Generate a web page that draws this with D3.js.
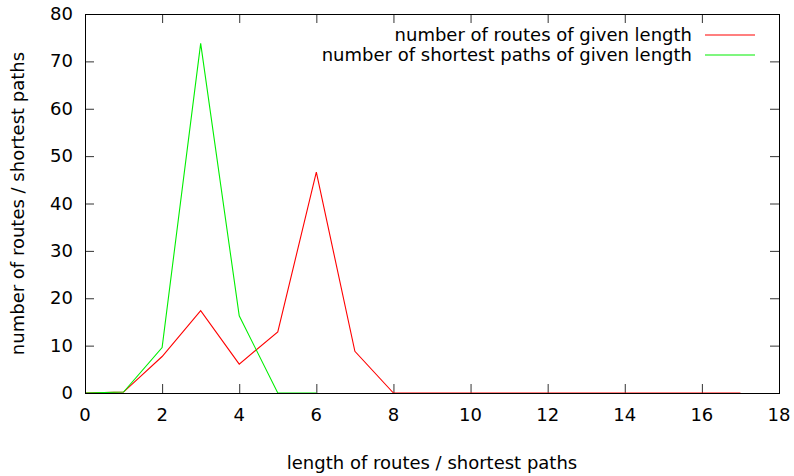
<!DOCTYPE html>
<html>
<head>
<meta charset="utf-8">
<script src="https://cdn.jsdelivr.net/npm/d3@7"></script>
<style>
  body { margin: 0; background: #fff; }
  text { font-family: "DejaVu Sans", sans-serif; font-size: 18px; fill: #000; }
</style>
</head>
<body>
<div id="chart"></div>
<script>
// path lengths and counts
const lengths = d3.range(0, 18);
const routes = [0, 0.2, 7.7, 17.4, 6.1, 12.9, 46.6, 8.8, 0, 0, 0, 0, 0, 0, 0, 0, 0, 0];
const shortest = [0, 0.2, 9.6, 73.8, 16.3, 0, 0];
const xTicks = d3.range(0, 19, 2);
const yTicks = d3.range(0, 81, 10);

const width = 794;
const height = 476;
const margin = { top: 14, right: 15, bottom: 83, left: 85 };

const svg = d3.select("#chart")
  .append("svg")
  .attr("width", width)
  .attr("height", height);

const xScale = d3.scaleLinear()
  .domain([0, 18])
  .range([margin.left, width - margin.right]);

const yScale = d3.scaleLinear()
  .domain([0, 80])
  .range([height - margin.bottom, margin.top]);

const tickLen = 9;

// ticks on all four sides, pointing inward
const ticks = svg.append("g").attr("stroke", "#333").attr("stroke-width", 1);
xTicks.slice(1, -1).forEach(t => {
  ticks.append("line")
    .attr("x1", xScale(t) + 0.5).attr("x2", xScale(t) + 0.5)
    .attr("y1", yScale(0)).attr("y2", yScale(0) - tickLen);
  ticks.append("line")
    .attr("x1", xScale(t) + 0.5).attr("x2", xScale(t) + 0.5)
    .attr("y1", yScale(80)).attr("y2", yScale(80) + tickLen);
});
yTicks.slice(1, -1).forEach(t => {
  ticks.append("line")
    .attr("x1", xScale(0)).attr("x2", xScale(0) + tickLen)
    .attr("y1", yScale(t) + 0.5).attr("y2", yScale(t) + 0.5);
  ticks.append("line")
    .attr("x1", xScale(18)).attr("x2", xScale(18) - tickLen)
    .attr("y1", yScale(t) + 0.5).attr("y2", yScale(t) + 0.5);
});

svg.append("g")
  .selectAll("text")
  .data(xTicks)
  .enter()
  .append("text")
  .attr("x", d => xScale(d))
  .attr("y", yScale(0) + 28)
  .attr("text-anchor", "middle")
  .text(d => d);

svg.append("g")
  .selectAll("text")
  .data(yTicks)
  .enter()
  .append("text")
  .attr("x", margin.left - 12)
  .attr("y", d => yScale(d) + 6)
  .attr("text-anchor", "end")
  .text(d => d);

const lineGenerator = d3.line()
  .x((d, i) => xScale(lengths[i]))
  .y(d => yScale(d));

svg.append("path")
  .datum(routes)
  .attr("fill", "none")
  .attr("stroke", "#ff0000")
  .attr("stroke-width", 1.1)
  .attr("d", lineGenerator);

svg.append("path")
  .datum(shortest)
  .attr("fill", "none")
  .attr("stroke", "#00ee00")
  .attr("stroke-width", 1.1)
  .attr("d", lineGenerator);

// border
svg.append("rect")
  .attr("x", margin.left + 0.5)
  .attr("y", margin.top + 0.5)
  .attr("width", xScale(18) - xScale(0))
  .attr("height", yScale(0) - yScale(80))
  .attr("fill", "none")
  .attr("stroke", "#000")
  .attr("stroke-width", 1);

// legend
const legend = [
  { label: "number of routes of given length", color: "#ff0000" },
  { label: "number of shortest paths of given length", color: "#00ee00" }
];
legend.forEach((d, i) => {
  const y = 35 + i * 20;
  svg.append("text")
    .attr("x", 692)
    .attr("y", y + 6)
    .attr("text-anchor", "end")
    .text(d.label);
  svg.append("line")
    .attr("x1", 705).attr("x2", 755)
    .attr("y1", y).attr("y2", y)
    .attr("stroke", d.color)
    .attr("stroke-width", 1.2);
});

svg.append("text")
  .attr("x", (xScale(0) + xScale(18)) / 2)
  .attr("y", 469)
  .attr("text-anchor", "middle")
  .text("length of routes / shortest paths");

svg.append("text")
  .attr("transform", "rotate(-90)")
  .attr("x", -(yScale(0) + yScale(80)) / 2)
  .attr("y", 24)
  .attr("text-anchor", "middle")
  .text("number of routes / shortest paths");
</script>
</body>
</html>
